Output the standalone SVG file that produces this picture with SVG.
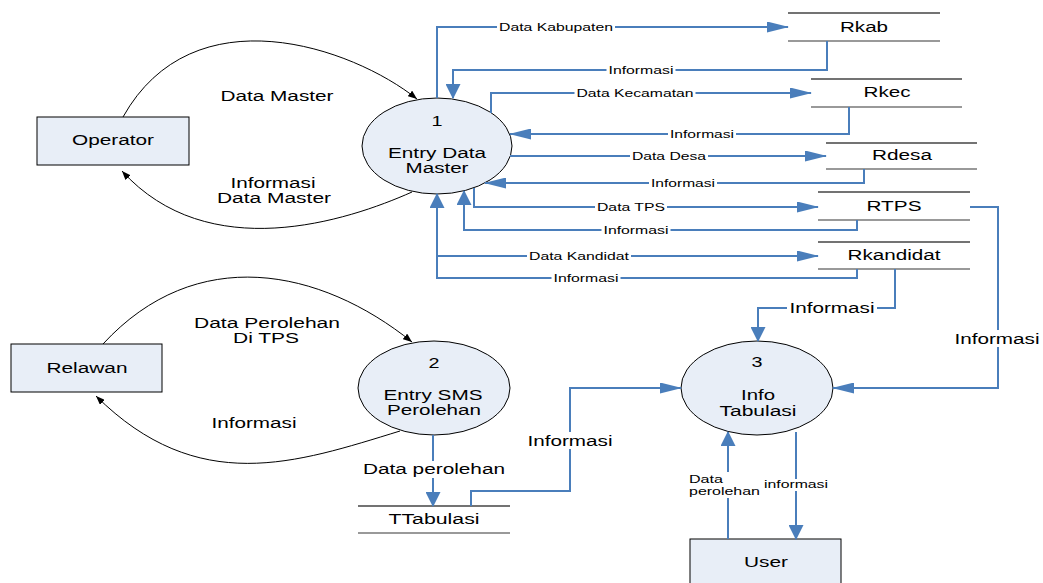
<svg xmlns="http://www.w3.org/2000/svg" width="1043" height="583" viewBox="0 0 1043 583">
<style>
.node{fill:#e8eef7;stroke:#000;stroke-width:1}
.st{stroke:#444;stroke-width:1.5}
.sb{stroke:#777;stroke-width:1.5}
.flow{fill:none;stroke:#4a7ebb;stroke-width:2}
.arc{fill:none;stroke:#000;stroke-width:1}
.bg{fill:#fff}
text{font-family:"Liberation Sans",Arial,sans-serif;fill:#000;text-anchor:middle}
.l{font-size:14px}
.s{font-size:11px}
.ls{font-size:11px;text-anchor:start}
</style>
<defs>
<marker id="ah" viewBox="0 0 22 11" refX="21" refY="5.5" markerWidth="22" markerHeight="11" markerUnits="userSpaceOnUse" orient="auto"><path d="M0,0 L22,5.5 L0,11 z" fill="#4a7ebb"/></marker>
<marker id="av" viewBox="0 0 15 15" refX="14" refY="7.5" markerWidth="15" markerHeight="15" markerUnits="userSpaceOnUse" orient="auto"><path d="M0,0 L15,7.5 L0,15 z" fill="#4a7ebb"/></marker>
<marker id="ab" viewBox="0 0 9 7" refX="9" refY="3.5" markerWidth="9" markerHeight="7" markerUnits="userSpaceOnUse" orient="auto"><path d="M0,0 L9,3.5 L0,7 z" fill="#000"/></marker>
</defs>
<rect width="1043" height="583" fill="#fff"/>

<g id="operator"><rect class="node" x="37" y="117" width="152" height="48"/><text class="l" x="113" y="145" textLength="82" lengthAdjust="spacingAndGlyphs">Operator</text></g>
<g id="relawan"><rect class="node" x="11" y="344" width="151" height="48"/><text class="l" x="87" y="373" textLength="81" lengthAdjust="spacingAndGlyphs">Relawan</text></g>
<g id="user"><rect class="node" x="690" y="539" width="151" height="50"/><text class="l" x="766" y="567" textLength="44" lengthAdjust="spacingAndGlyphs">User</text></g>

<g id="p1"><ellipse class="node" cx="437" cy="146" rx="75" ry="48"/><text class="l" x="437" y="126" textLength="11" lengthAdjust="spacingAndGlyphs">1</text><text class="l" x="437" y="158" textLength="98" lengthAdjust="spacingAndGlyphs">Entry Data</text><text class="l" x="437" y="173" textLength="63" lengthAdjust="spacingAndGlyphs">Master</text></g>
<g id="p2"><ellipse class="node" cx="434" cy="388" rx="76" ry="47"/><text class="l" x="434" y="368" textLength="11" lengthAdjust="spacingAndGlyphs">2</text><text class="l" x="433" y="400" textLength="99" lengthAdjust="spacingAndGlyphs">Entry SMS</text><text class="l" x="434" y="415" textLength="94" lengthAdjust="spacingAndGlyphs">Perolehan</text></g>
<g id="p3"><ellipse class="node" cx="757" cy="388" rx="76" ry="47"/><text class="l" x="757" y="367" textLength="11" lengthAdjust="spacingAndGlyphs">3</text><text class="l" x="758" y="400" textLength="34" lengthAdjust="spacingAndGlyphs">Info</text><text class="l" x="758" y="416" textLength="77" lengthAdjust="spacingAndGlyphs">Tabulasi</text></g>

<g id="rkab"><line class="st" x1="788" y1="13" x2="940" y2="13"/><line class="sb" x1="788" y1="41" x2="940" y2="41"/><text class="l" x="864" y="32" textLength="48" lengthAdjust="spacingAndGlyphs">Rkab</text></g>
<g id="rkec"><line class="st" x1="811" y1="79" x2="962" y2="79"/><line class="sb" x1="811" y1="107" x2="962" y2="107"/><text class="l" x="887" y="97" textLength="47" lengthAdjust="spacingAndGlyphs">Rkec</text></g>
<g id="rdesa"><line class="st" x1="826" y1="143" x2="977" y2="143"/><line class="sb" x1="826" y1="169" x2="977" y2="169"/><text class="l" x="902" y="160" textLength="60" lengthAdjust="spacingAndGlyphs">Rdesa</text></g>
<g id="rtps"><line class="st" x1="818" y1="192" x2="970" y2="192"/><line class="sb" x1="818" y1="220" x2="970" y2="220"/><text class="l" x="894" y="211" textLength="55" lengthAdjust="spacingAndGlyphs">RTPS</text></g>
<g id="rkandidat"><line class="st" x1="818" y1="242" x2="970" y2="242"/><line class="sb" x1="818" y1="269" x2="970" y2="269"/><text class="l" x="894" y="260" textLength="93" lengthAdjust="spacingAndGlyphs">Rkandidat</text></g>
<g id="ttabulasi"><line class="st" x1="358" y1="506" x2="510" y2="506"/><line class="sb" x1="358" y1="533" x2="510" y2="533"/><text class="l" x="434" y="524" textLength="91" lengthAdjust="spacingAndGlyphs">TTabulasi</text></g>

<g id="connectors">
<path class="arc" d="M123,117 C193,-8 352,47 417,99" marker-end="url(#ab)"/>
<path class="arc" d="M412,192 C347,221 208,266 122,171" marker-end="url(#ab)"/>
<path class="arc" d="M103,344 C196,243 320,268 412,342" marker-end="url(#ab)"/>
<path class="arc" d="M400,431 C296,463 198,497 96,396" marker-end="url(#ab)"/>

<path class="flow" d="M437,98 V27 H788" marker-end="url(#ah)"/>
<path class="flow" d="M827,41 V70 H453 V98" marker-end="url(#av)"/>
<path class="flow" d="M491,113 V93 H811" marker-end="url(#ah)"/>
<path class="flow" d="M849,107 V134 H510" marker-end="url(#ah)"/>
<path class="flow" d="M510,156 H826" marker-end="url(#ah)"/>
<path class="flow" d="M864,169 V183 H485" marker-end="url(#ah)"/>
<path class="flow" d="M474,188 V207 H818" marker-end="url(#ah)"/>
<path class="flow" d="M857,220 V230 H464 V191" marker-end="url(#av)"/>
<path class="flow" d="M437,256 H818" marker-end="url(#ah)"/>
<path class="flow" d="M857,269 V278 H437 V194" marker-end="url(#av)"/>
<path class="flow" d="M895,269 V308 H758 V341" marker-end="url(#av)"/>
<path class="flow" d="M970,207 H998 V388 H833" marker-end="url(#ah)"/>
<path class="flow" d="M471,506 V491 H570 V388 H681" marker-end="url(#ah)"/>
<path class="flow" d="M433,435 V506" marker-end="url(#av)"/>
<path class="flow" d="M728,539 V432" marker-end="url(#av)"/>
<path class="flow" d="M796,432 V539" marker-end="url(#av)"/>

<text class="l" x="277" y="101" textLength="113" lengthAdjust="spacingAndGlyphs">Data Master</text>
<text class="l" x="273" y="188" textLength="85" lengthAdjust="spacingAndGlyphs">Informasi</text>
<text class="l" x="274" y="203" textLength="114" lengthAdjust="spacingAndGlyphs">Data Master</text>
<text class="l" x="267" y="328" textLength="146" lengthAdjust="spacingAndGlyphs">Data Perolehan</text>
<text class="l" x="266" y="343" textLength="66" lengthAdjust="spacingAndGlyphs">Di TPS</text>
<text class="l" x="254" y="428" textLength="85" lengthAdjust="spacingAndGlyphs">Informasi</text>

<rect class="bg" x="497" y="21" width="118" height="12"/><text class="s" x="556" y="31" textLength="114" lengthAdjust="spacingAndGlyphs">Data Kabupaten</text>
<rect class="bg" x="606.5" y="64" width="69" height="12"/><text class="s" x="641" y="74" textLength="65" lengthAdjust="spacingAndGlyphs">Informasi</text>
<rect class="bg" x="574.5" y="87" width="121" height="12"/><text class="s" x="635" y="97" textLength="117" lengthAdjust="spacingAndGlyphs">Data Kecamatan</text>
<rect class="bg" x="668" y="128" width="68" height="12"/><text class="s" x="702" y="138" textLength="64" lengthAdjust="spacingAndGlyphs">Informasi</text>
<rect class="bg" x="630" y="150" width="78" height="12"/><text class="s" x="669" y="160" textLength="74" lengthAdjust="spacingAndGlyphs">Data Desa</text>
<rect class="bg" x="649" y="177" width="68" height="12"/><text class="s" x="683" y="187" textLength="64" lengthAdjust="spacingAndGlyphs">Informasi</text>
<rect class="bg" x="595" y="201" width="72" height="12"/><text class="s" x="631" y="211" textLength="68" lengthAdjust="spacingAndGlyphs">Data TPS</text>
<rect class="bg" x="601.5" y="224" width="69" height="12"/><text class="s" x="636" y="234" textLength="65" lengthAdjust="spacingAndGlyphs">Informasi</text>
<rect class="bg" x="527" y="250" width="104" height="12"/><text class="s" x="579" y="260" textLength="100" lengthAdjust="spacingAndGlyphs">Data Kandidat</text>
<rect class="bg" x="551.5" y="272" width="69" height="12"/><text class="s" x="586" y="282" textLength="65" lengthAdjust="spacingAndGlyphs">Informasi</text>

<rect class="bg" x="787" y="300" width="90" height="16"/><text class="l" x="832" y="313" textLength="85" lengthAdjust="spacingAndGlyphs">Informasi</text>
<rect class="bg" x="953" y="330" width="89" height="17"/><text class="l" x="997" y="344" textLength="85" lengthAdjust="spacingAndGlyphs">Informasi</text>
<rect class="bg" x="526" y="432" width="88" height="17"/><text class="l" x="570" y="446" textLength="85" lengthAdjust="spacingAndGlyphs">Informasi</text>
<rect class="bg" x="361" y="461" width="146" height="17"/><text class="l" x="434" y="474" textLength="142" lengthAdjust="spacingAndGlyphs">Data perolehan</text>
<rect class="bg" x="687" y="472" width="74" height="26"/><text class="ls" x="689" y="483" textLength="34" lengthAdjust="spacingAndGlyphs">Data</text><text class="ls" x="689" y="495" textLength="71" lengthAdjust="spacingAndGlyphs">perolehan</text>
<rect class="bg" x="762" y="479" width="68" height="12"/><text class="s" x="796" y="488" textLength="64" lengthAdjust="spacingAndGlyphs">informasi</text>
</g>
</svg>
